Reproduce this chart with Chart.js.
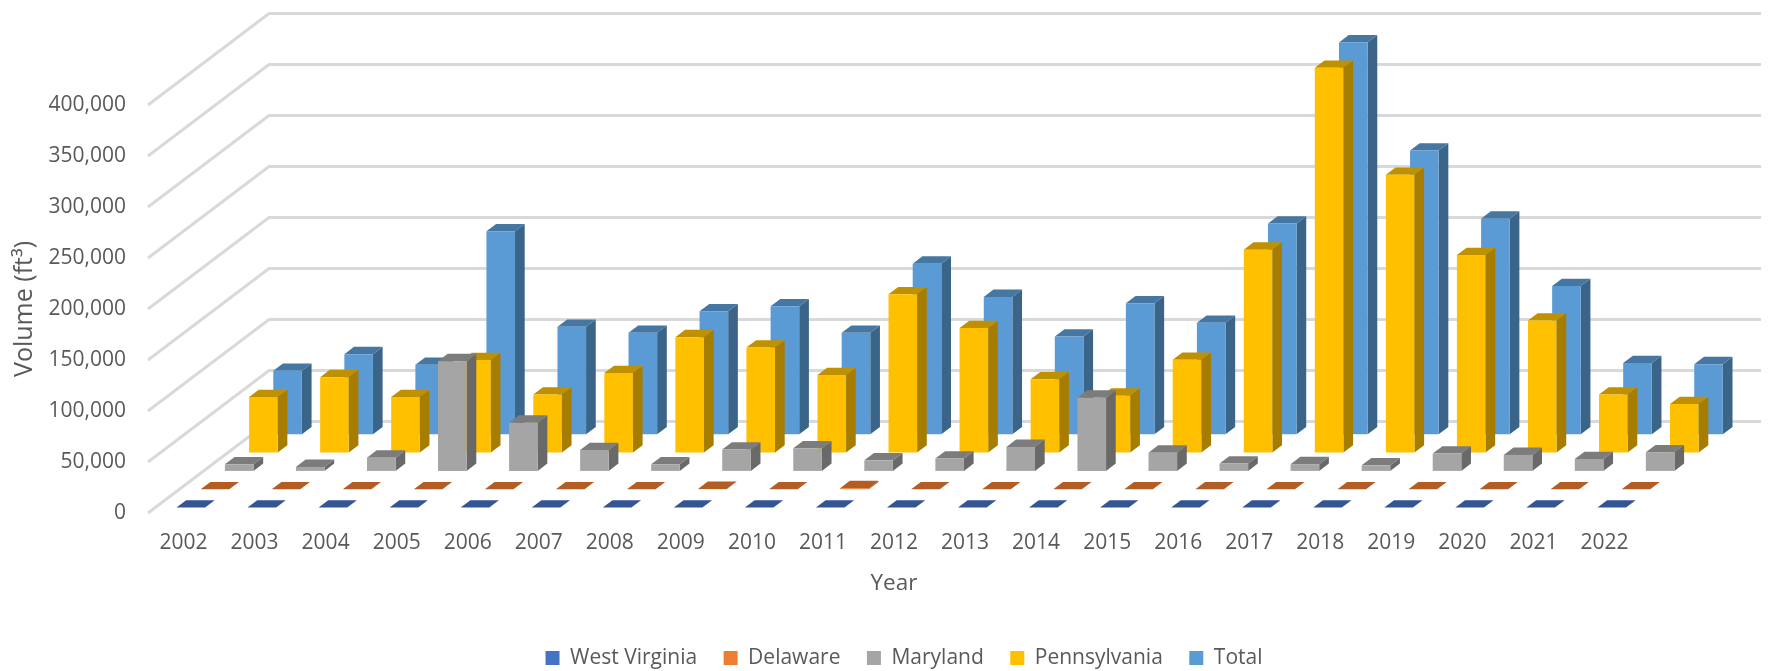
<!DOCTYPE html>
<html>
<head>
<meta charset="utf-8">
<style>
  html, body { margin: 0; padding: 0; background: #fff; }
  canvas { display: block; }
</style>
<script src="https://cdn.jsdelivr.net/npm/chart.js@4/dist/chart.umd.min.js"></script>
</head>
<body>
<canvas id="volumeChart" width="1769" height="671"></canvas>
<script>
const years = ['2002','2003','2004','2005','2006','2007','2008','2009','2010','2011','2012','2013','2014','2015','2016','2017','2018','2019','2020','2021','2022'];

const westVirginia = [0,0,0,0,0,0,0,0,0,0,0,0,0,0,0,0,0,0,0,0,0];
const delaware = [0,0,0,0,0,0,0,300,0,1000,0,0,0,0,0,0,0,0,0,0,0];
const maryland = [6500,3900,13000,107600,47300,20500,6500,20900,22200,10400,12200,23500,71800,17900,7200,6600,5500,17000,15700,11700,18300];
const pennsylvania = [54500,74000,54500,90700,57000,78000,113200,103000,76000,155300,122200,71800,55800,91000,199000,377300,272300,193700,129500,57000,47600];
const total = [62300,78600,68200,199000,105500,99500,120700,125600,99500,167300,134700,95900,128500,109300,206600,384200,278200,211400,145400,69800,68800];

const seriesNames = ['West Virginia','Delaware','Maryland','Pennsylvania','Total'];
const seriesValues = [westVirginia, delaware, maryland, pennsylvania, total];
const faceColors = ['#4472C4','#ED7D31','#A5A5A5','#FFC000','#5B9BD5'];
const topColors = ['#335593','#B35D25','#7C7C7C','#BF9000','#4577A2'];
const sideColors = ['#2A467A','#954E1F','#696969','#A67D00','#3A6488'];

const textColor = '#595959';
const fontFamily = '"Open Sans", sans-serif';

// oblique depth of the floor, split in one slot per series
const depthX = 121;
const depthY = 91.5;
const slotX = depthX / seriesNames.length;
const slotY = depthY / seriesNames.length;
const barDepth = 0.4;
const barGap = 0.3;

const fake3d = {
    id: 'fake3d',
    afterLayout(chart) {
        const legend = chart.legend;
        legend.left += 84;
        legend.right += 84;
        legend.top = 621;
    },
    beforeDatasetsDraw(chart) {
        const { ctx, scales: { x, y } } = chart;
        ctx.save();
        ctx.strokeStyle = '#d9d9d9';
        ctx.lineWidth = 3;
        y.ticks.forEach((tick) => {
            const py = y.getPixelForValue(tick.value);
            ctx.beginPath();
            ctx.moveTo(x.left, py);
            ctx.lineTo(x.left + depthX, py - depthY);
            ctx.lineTo(x.right + depthX, py - depthY);
            ctx.stroke();
        });
        ctx.restore();
    },
    beforeDatasetDraw(chart, args) {
        const ctx = chart.ctx;
        const i = args.index;
        const sx = slotX * barDepth;
        const sy = slotY * barDepth;

        ctx.save();
        ctx.translate((i + barGap) * slotX, -(i + barGap) * slotY);

        args.meta.data.forEach((bar) => {
            const left = bar.x - bar.width / 2;
            const right = bar.x + bar.width / 2;

            ctx.fillStyle = sideColors[i];
            ctx.beginPath();
            ctx.moveTo(right, bar.y);
            ctx.lineTo(right + sx, bar.y - sy);
            ctx.lineTo(right + sx, bar.base - sy);
            ctx.lineTo(right, bar.base);
            ctx.closePath();
            ctx.fill();

            ctx.fillStyle = topColors[i];
            ctx.beginPath();
            ctx.moveTo(left, bar.y);
            ctx.lineTo(left + sx, bar.y - sy);
            ctx.lineTo(right + sx, bar.y - sy);
            ctx.lineTo(right, bar.y);
            ctx.closePath();
            ctx.fill();
        });
    },
    afterDatasetDraw(chart) {
        chart.ctx.restore();
    }
};

new Chart(document.getElementById('volumeChart'), {
    type: 'bar',
    data: {
        labels: years,
        datasets: seriesNames.map((name, i) => ({
            label: name,
            data: seriesValues[i],
            backgroundColor: faceColors[i],
            borderWidth: 0,
            grouped: false,
            clip: false,
            barPercentage: 0.4025,
            categoryPercentage: 1
        }))
    },
    options: {
        responsive: false,
        animation: false,
        layout: { padding: { top: 105, right: 129 } },
        scales: {
            x: {
                grid: { display: false, drawTicks: false },
                border: { display: false },
                ticks: {
                    autoSkip: false,
                    maxRotation: 0,
                    padding: 17,
                    color: textColor,
                    font: { family: fontFamily, size: 21 }
                },
                title: {
                    display: true,
                    text: 'Year',
                    color: textColor,
                    padding: { top: 0, bottom: 34 },
                    font: { family: fontFamily, size: 22.5 }
                },
                afterFit(scale) { scale.height = 118; }
            },
            y: {
                min: 0,
                max: 400000,
                grid: { display: false, drawTicks: false },
                border: { display: false },
                ticks: {
                    stepSize: 50000,
                    padding: 22,
                    color: textColor,
                    font: { family: fontFamily, size: 21 },
                    callback: (value) => value.toLocaleString('en-US')
                },
                title: {
                    display: true,
                    text: 'Volume (ft³)',
                    color: textColor,
                    padding: { top: 10, bottom: 0 },
                    font: { family: fontFamily, size: 25 }
                },
                afterFit(scale) { scale.width = 148; }
            }
        },
        plugins: {
            tooltip: { enabled: false },
            legend: {
                position: 'bottom',
                maxHeight: 40,
                labels: {
                    boxWidth: 14,
                    boxHeight: 14,
                    padding: 26.5,
                    color: textColor,
                    font: { family: fontFamily, size: 21 }
                }
            }
        }
    },
    plugins: [fake3d]
});
</script>
</body>
</html>
